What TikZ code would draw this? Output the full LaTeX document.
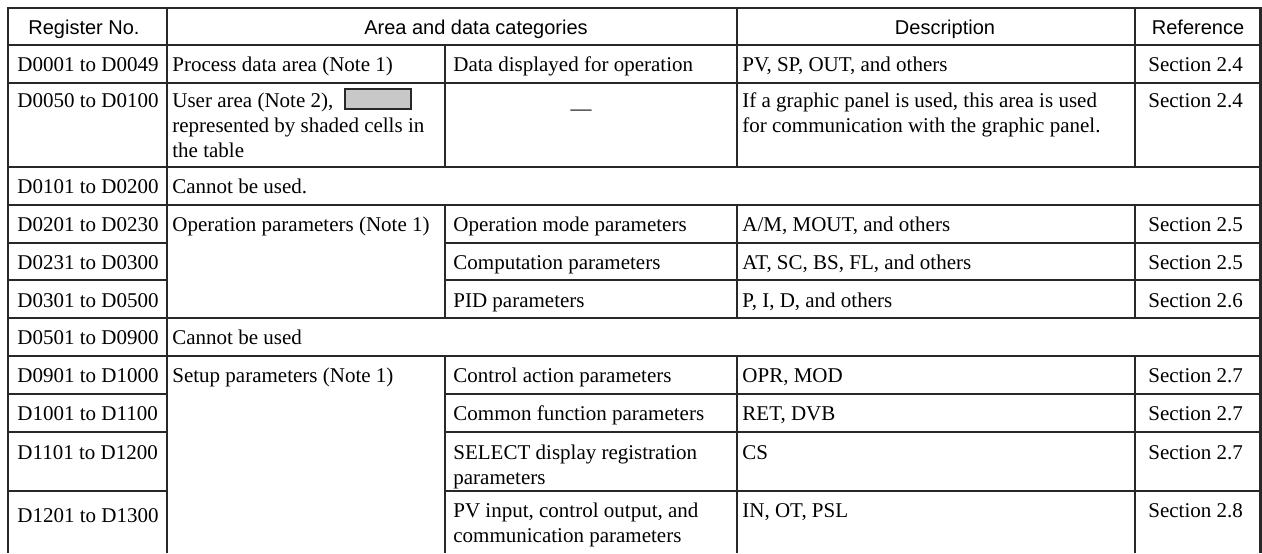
\documentclass[tikz,border=0pt]{standalone}
\usepackage{fontspec}
\setmainfont{Liberation Serif}
\newfontfamily\headfont{Liberation Sans}
\definecolor{rulegray}{RGB}{40,40,40}
\definecolor{shadegray}{RGB}{200,200,200}

\tikzset{
  cell/.style={anchor=base west, inner sep=0pt, align=left, font=\fontsize{10.5}{12.5}\selectfont},
  head/.style={anchor=base, inner sep=0pt, font=\headfont\fontsize{10}{12}\selectfont},
  gridline/.style={draw=rulegray, line width=0.65pt},
  frameline/.style={draw=rulegray, line width=1.4pt}
}

\begin{document}
\begin{tikzpicture}[x=0.5pt, y=-0.5pt]
  \useasboundingbox (0,0) rectangle (1262,553);

  %% Header row
  \node[head] (hreg) at (84,34) {Register No.};
  \node[head] (harea) at (476,34) {Area and data categories};
  \node[head] (hdesc) at (945,34) {Description};
  \node[head] (href) at (1198,34) {Reference};

  %% Process data / user area (multi-line cells sit on their last baseline)
  \node[cell] (reg1) at (17,71) {D0001 to D0049};
  \node[cell] (area1) at (172,71) {Process data area (Note 1)};
  \node[cell] (cat1) at (453,71) {Data displayed for operation};
  \node[cell] (desc1) at (742,71) {PV, SP, OUT, and others};
  \node[cell] (ref1) at (1148,71) {Section 2.4};

  \node[cell] (reg2) at (17,107) {D0050 to D0100};
  \node[cell] (area2) at (172,157) {User area (Note 2),\\represented by shaded cells in\\the table};
  \node[draw=rulegray, fill=shadegray, line width=0.6pt, inner sep=0pt, minimum width=33pt, minimum height=10pt] (shadebox) at (378,99) {};
  \node[anchor=base, inner sep=0pt, font=\fontsize{10.5}{12.5}\selectfont] (cat2) at (581,115) {---};
  \node[cell] (desc2) at (742,132) {If a graphic panel is used, this area is used\\for communication with the graphic panel.};
  \node[cell] (ref2) at (1148,107) {Section 2.4};

  \node[cell] (reg3) at (17,193) {D0101 to D0200};
  \node[cell] (area3) at (172,193) {Cannot be used.};

  %% Operation parameters
  \node[cell] (reg4) at (17,231) {D0201 to D0230};
  \node[cell] (area4) at (172,231) {Operation parameters (Note 1)};
  \node[cell] (cat4) at (453,231) {Operation mode parameters};
  \node[cell] (desc4) at (742,231) {A/M, MOUT, and others};
  \node[cell] (ref4) at (1148,231) {Section 2.5};

  \node[cell] (reg5) at (17,269) {D0231 to D0300};
  \node[cell] (cat5) at (453,269) {Computation parameters};
  \node[cell] (desc5) at (742,269) {AT, SC, BS, FL, and others};
  \node[cell] (ref5) at (1148,269) {Section 2.5};

  \node[cell] (reg6) at (17,307) {D0301 to D0500};
  \node[cell] (cat6) at (453,307) {PID parameters};
  \node[cell] (desc6) at (742,307) {P, I, D, and others};
  \node[cell] (ref6) at (1148,307) {Section 2.6};

  \node[cell] (reg7) at (17,344) {D0501 to D0900};
  \node[cell] (area7) at (172,344) {Cannot be used};

  %% Setup parameters
  \node[cell] (reg8) at (17,382) {D0901 to D1000};
  \node[cell] (area8) at (172,382) {Setup parameters (Note 1)};
  \node[cell] (cat8) at (453,382) {Control action parameters};
  \node[cell] (desc8) at (742,382) {OPR, MOD};
  \node[cell] (ref8) at (1148,382) {Section 2.7};

  \node[cell] (reg9) at (17,420) {D1001 to D1100};
  \node[cell] (cat9) at (453,420) {Common function parameters};
  \node[cell] (desc9) at (742,420) {RET, DVB};
  \node[cell] (ref9) at (1148,420) {Section 2.7};

  \node[cell] (reg10) at (17,459) {D1101 to D1200};
  \node[cell] (cat10) at (453,484) {SELECT display registration\\parameters};
  \node[cell] (desc10) at (742,459) {CS};
  \node[cell] (ref10) at (1148,459) {Section 2.7};

  \node[cell] (reg11) at (17,522) {D1201 to D1300};
  \node[cell] (cat11) at (453,542) {PV input, control output, and\\communication parameters};
  \node[cell] (desc11) at (742,517) {IN, OT, PSL};
  \node[cell] (ref11) at (1148,517) {Section 2.8};

  %% Rules across the full width
  \draw[frameline] (8,8) -- (1261,8);
  \draw[gridline] (8,45) -- (1261,45);
  \draw[gridline] (8,83) -- (1261,83);
  \draw[gridline] (8,167) -- (1261,167);
  \draw[gridline] (8,205) -- (1261,205);
  \draw[gridline] (8,318) -- (1261,318);
  \draw[gridline] (8,356) -- (1261,356);

  %% Rules broken by the spanning area cells
  \draw[gridline] (8,243) -- (167,243) (445,243) -- (1261,243);
  \draw[gridline] (8,280) -- (167,280) (445,280) -- (1261,280);
  \draw[gridline] (8,394) -- (167,394) (445,394) -- (1261,394);
  \draw[gridline] (8,432) -- (167,432) (445,432) -- (1261,432);
  \draw[gridline] (8,491) -- (167,491) (445,491) -- (1261,491);

  %% Column rules
  \draw[frameline] (8,7.3) -- (8,553);
  \draw[gridline] (167,8) -- (167,553);
  \draw[gridline] (445,45) -- (445,167) (445,205) -- (445,318) (445,356) -- (445,553);
  \draw[gridline] (737,8) -- (737,167) (737,205) -- (737,318) (737,356) -- (737,553);
  \draw[gridline] (1135,8) -- (1135,167) (1135,205) -- (1135,318) (1135,356) -- (1135,553);
  \draw[frameline] (1260.5,7.3) -- (1260.5,553);
\end{tikzpicture}
\end{document}
